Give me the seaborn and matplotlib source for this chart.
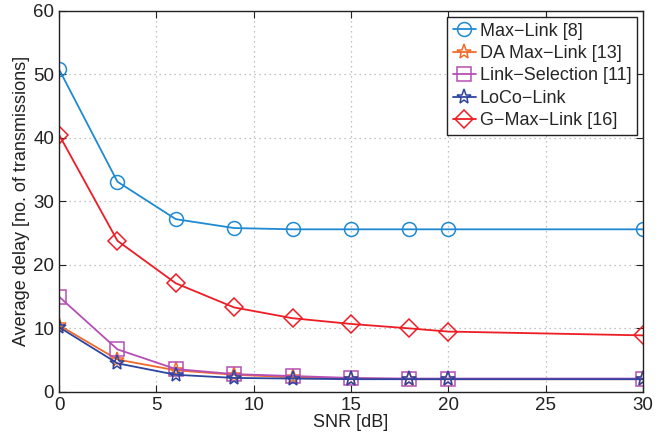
import numpy as np
import pandas as pd
import matplotlib
matplotlib.use("Agg")
import matplotlib.pyplot as plt
import seaborn as sns

snr = [0, 3, 6, 9, 12, 15, 18, 20, 30]
max_link = [50.8, 33.1, 27.2, 25.8, 25.6, 25.6, 25.6, 25.6, 25.6]
da_max_link = [10.5, 5.1, 3.4, 2.7, 2.3, 2.1, 2.0, 2.0, 2.0]
link_selection = [15.0, 6.7, 3.6, 2.8, 2.5, 2.2, 2.1, 2.1, 2.1]
loco_link = [10.2, 4.5, 2.7, 2.2, 2.1, 2.0, 2.0, 2.0, 2.0]
g_max_link = [40.5, 23.8, 17.1, 13.3, 11.6, 10.7, 10.0, 9.5, 8.9]

names = ["Max\u2212Link [8]", "DA Max\u2212Link [13]", "Link\u2212Selection [11]",
         "LoCo\u2212Link", "G\u2212Max\u2212Link [16]"]
series = [max_link, da_max_link, link_selection, loco_link, g_max_link]
colors = ["#1f8ad2", "#f26a2a", "#b54fb5", "#2e45a0", "#ee1c25"]
markers = ["o", "*", "s", "*", "D"]
msizes = [10, 11, 10, 11, 9]

frames = []
for n, s in zip(names, series):
    frames.append(pd.DataFrame({"SNR": snr, "delay": s, "scheme": n}))
df = pd.concat(frames, ignore_index=True)

sns.set_style("ticks")
plt.rcParams["font.family"] = ["Liberation Sans", "DejaVu Sans"]

fig = plt.figure(figsize=(6.67, 4.34), dpi=100)
ax = fig.add_axes([0.0885, 0.097, 0.8755, 0.878])

for n, c, m, ms in zip(names, colors, markers, msizes):
    sub = df[df["scheme"] == n]
    sns.lineplot(data=sub, x="SNR", y="delay", ax=ax, color=c, marker=m,
                 markersize=ms, markerfacecolor="none", markeredgecolor=c,
                 markeredgewidth=1.1, linewidth=1.3, label=n, legend=False)

ax.set_xlim(0, 30)
ax.set_ylim(0, 60)
ax.set_xticks([0, 5, 10, 15, 20, 25, 30])
ax.set_yticks([0, 10, 20, 30, 40, 50, 60])
ax.grid(True, color="#b0b0b0", linestyle=(0, (1, 3)), linewidth=0.9)
ax.tick_params(direction="in", top=True, right=True, labelsize=13.5, length=5,
               width=0.8, colors="#222222")
for sp in ax.spines.values():
    sp.set_visible(True)
    sp.set_color("#222222")
    sp.set_linewidth(1.0)
ax.set_xlabel("SNR [dB]", fontsize=13, labelpad=0, color="#222222")
ax.set_ylabel("Average delay [no. of transmissions]", fontsize=13, labelpad=2,
              color="#222222")

leg = ax.legend(loc="upper right", fontsize=13, frameon=True, fancybox=False,
                handlelength=1.3, handletextpad=0.2, borderpad=0.3,
                labelspacing=0.3, borderaxespad=0.35)
leg.get_frame().set_edgecolor("#222222")
leg.get_frame().set_linewidth(1.0)
leg.get_frame().set_alpha(1)

fig.savefig("out.png", dpi=100)
